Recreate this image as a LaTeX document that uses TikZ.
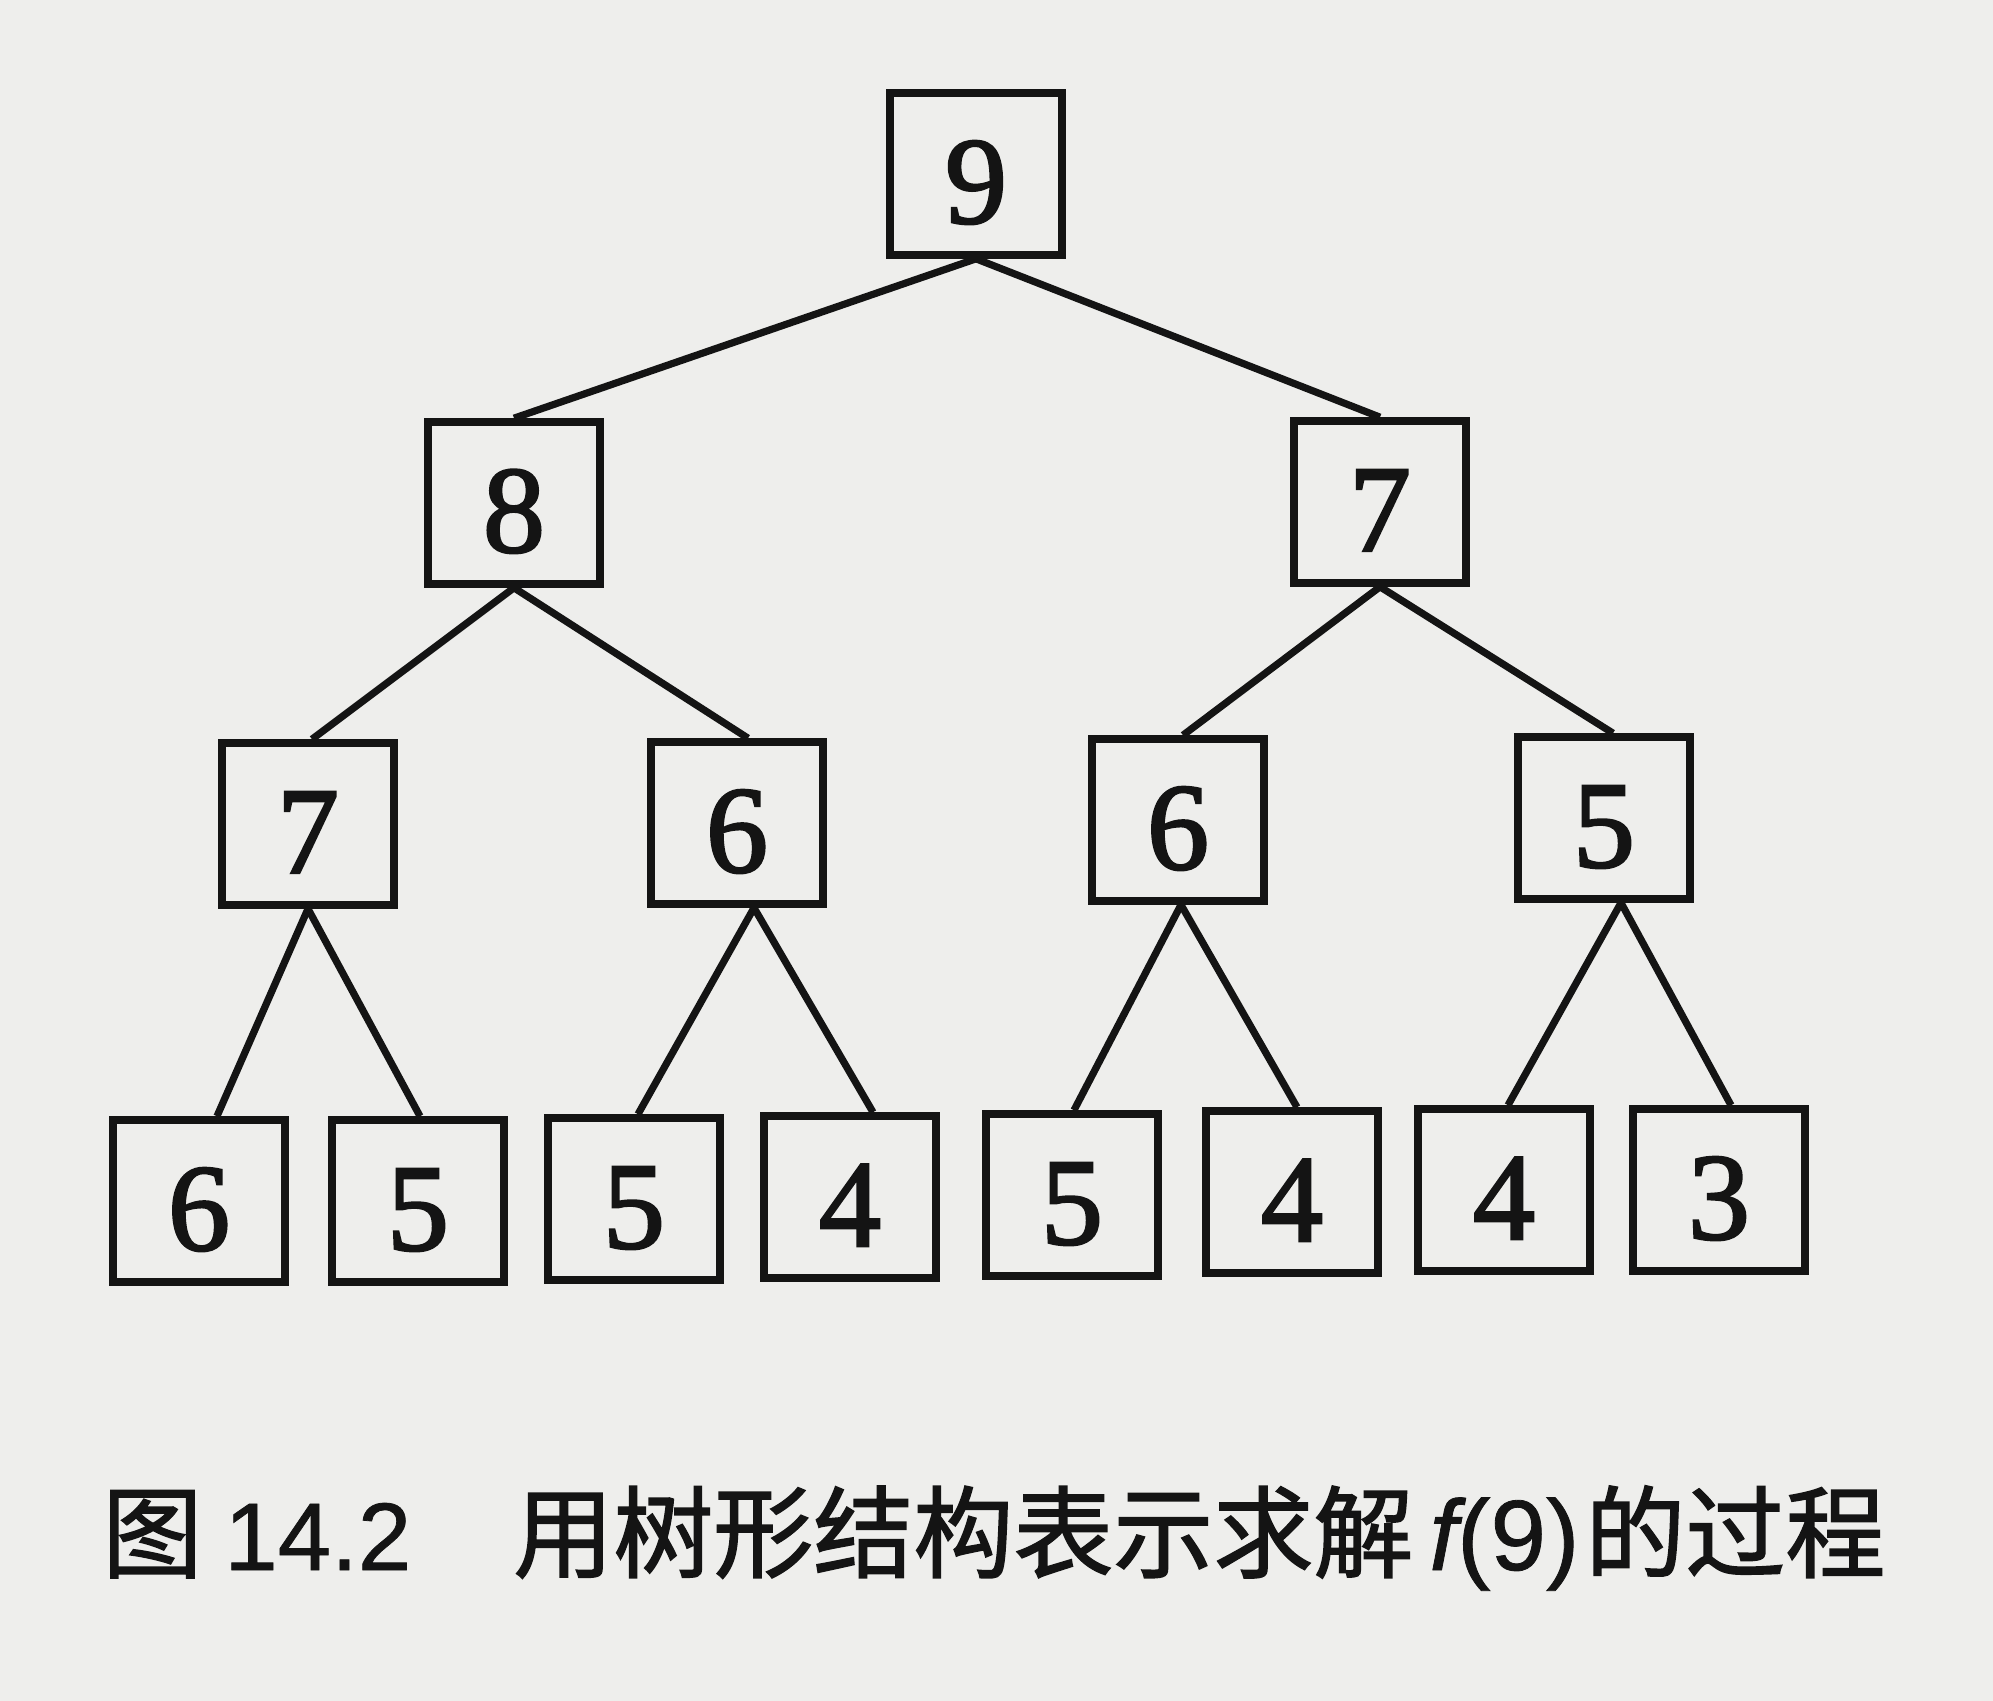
\documentclass[tikz,border=0pt]{standalone}
\usepackage{fontspec}
\setmainfont{Liberation Serif}[FakeBold=2]
\newfontfamily\cjk{Noto Sans CJK SC}[FakeBold=1.5]
\newfontfamily\capsans{Liberation Sans}[FakeBold=0.8]
\definecolor{paper}{RGB}{238,238,236}
\definecolor{ink}{RGB}{20,20,20}
\begin{document}
\begin{tikzpicture}[x=0.5pt,y=-0.5pt,
  numbox/.style={draw=ink,line width=3.8pt,minimum width=86pt,minimum height=81pt,
    inner sep=0pt,text height=49pt,text depth=0pt,
    font=\fontsize{62}{62}\selectfont,text=ink},
  edge/.style={draw=ink,line width=3.6pt},
  captext/.style={anchor=base west,inner sep=0pt,text=ink,font=\fontsize{50}{50}\selectfont\cjk}]
\fill[paper] (0,0) rectangle (1993,1701);
\useasboundingbox (0,0) rectangle (1993,1701);
% level 0
\node[numbox] (r) at (976,174) {9};
% level 1
\node[numbox] (a) at (514,503) {8};
\node[numbox] (b) at (1380,502) {7};
% level 2
\node[numbox] (aa) at (308,824) {7};
\node[numbox] (ab) at (737,823) {6};
\node[numbox] (ba) at (1178,820) {6};
\node[numbox] (bb) at (1604,818) {5};
% level 3
\node[numbox] (aaa) at (199,1201) {6};
\node[numbox] (aab) at (418,1201) {5};
\node[numbox] (aba) at (634,1199) {5};
\node[numbox] (abb) at (850,1197) {4};
\node[numbox] (baa) at (1072,1195) {5};
\node[numbox] (bab) at (1292,1192) {4};
\node[numbox] (bba) at (1504,1190) {4};
\node[numbox] (bbb) at (1719,1190) {3};
% edges
\draw[edge] (r.south) -- (a.north);
\draw[edge] (r.south) -- (b.north);
\draw[edge] (a.south) -- ([xshift=2pt]aa.north);
\draw[edge] (a.south) -- ([xshift=5.5pt]ab.north);
\draw[edge] (b.south) -- ([xshift=2.5pt]ba.north);
\draw[edge] (b.south) -- ([xshift=4.5pt]bb.north);
\draw[edge] (aa.south) -- ([xshift=9pt]aaa.north);
\draw[edge] (aa.south) -- ([xshift=1pt]aab.north);
\draw[edge] ([xshift=8.5pt]ab.south) -- ([xshift=2pt]aba.north);
\draw[edge] ([xshift=8.5pt]ab.south) -- ([xshift=11.5pt]abb.north);
\draw[edge] ([xshift=1.5pt]ba.south) -- ([xshift=1pt]baa.north);
\draw[edge] ([xshift=1.5pt]ba.south) -- ([xshift=2.5pt]bab.north);
\draw[edge] ([xshift=8.5pt]bb.south) -- ([xshift=2pt]bba.north);
\draw[edge] ([xshift=8.5pt]bb.south) -- ([xshift=6pt]bbb.north);
% caption
\node[captext] (c1) at (102,1570) {图};
\node[captext] (c2) at (224,1570) {\capsans\fontsize{48}{48}\selectfont 14.2};
\node[captext] (c3) at (513,1570) {用树形结构表示求解\hspace{8pt}{\capsans\itshape f}{\capsans(9)}\hspace{3pt}的过程};
\end{tikzpicture}
\end{document}
